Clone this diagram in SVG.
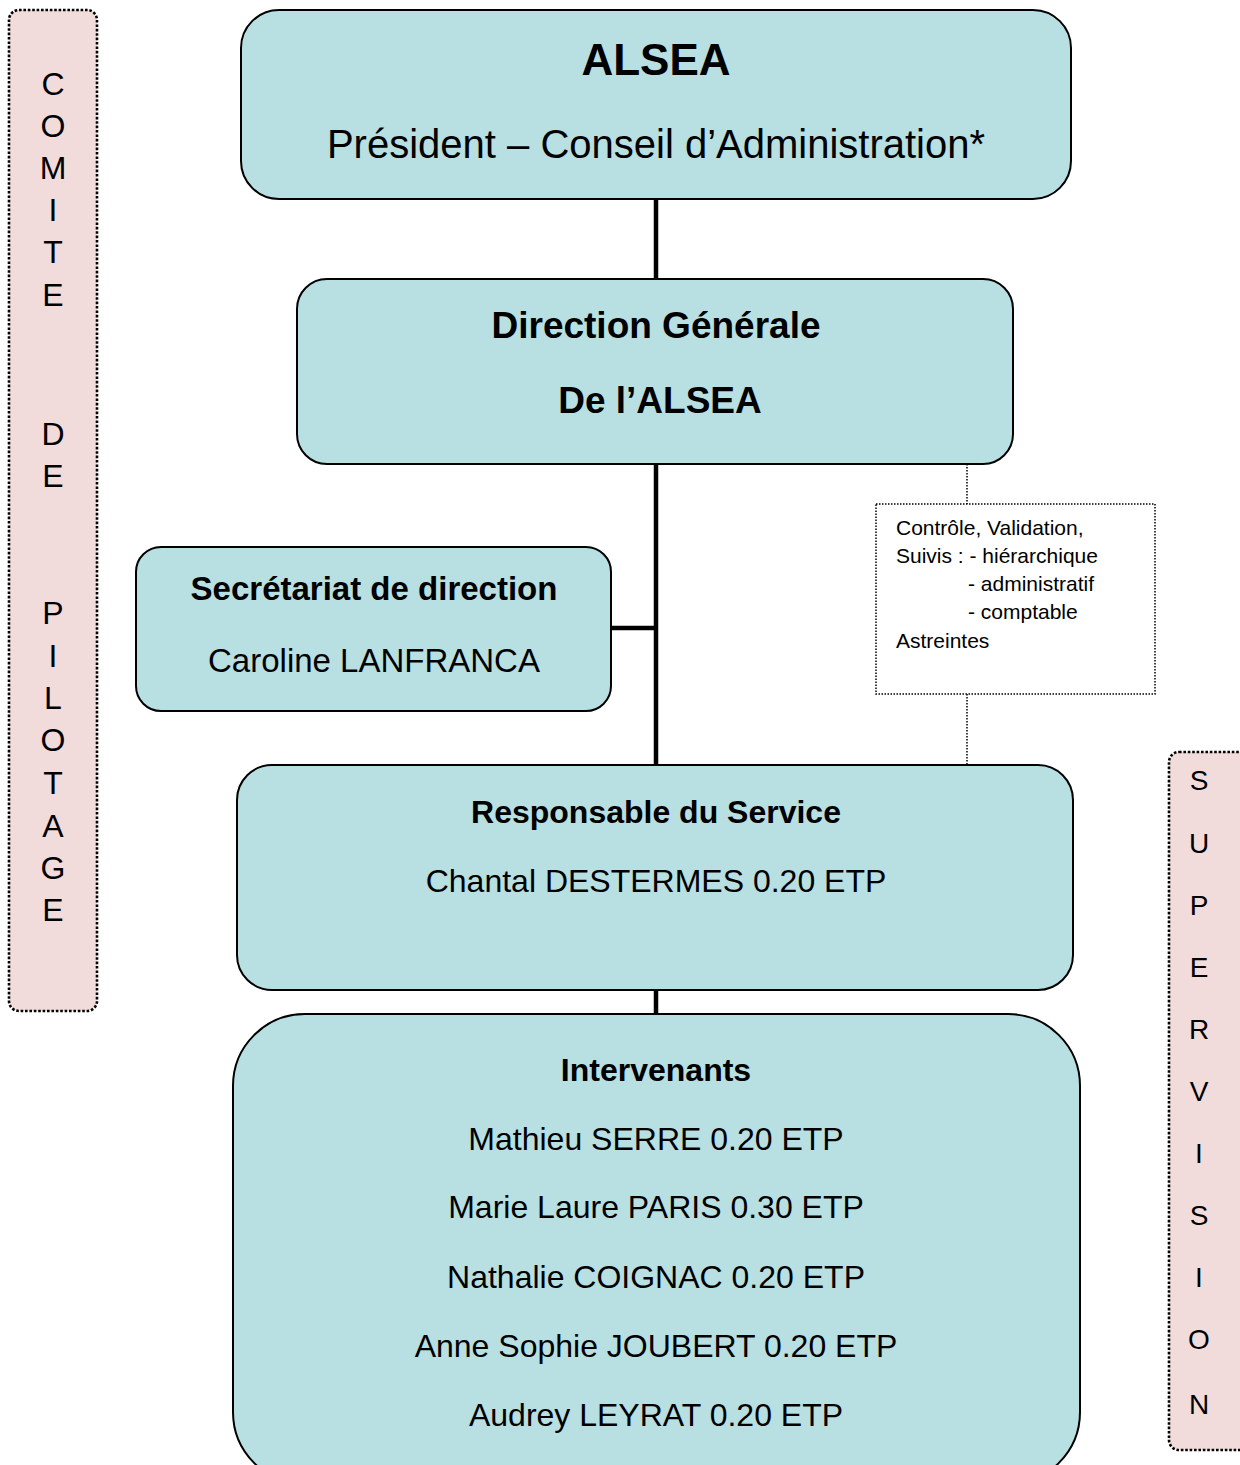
<svg xmlns="http://www.w3.org/2000/svg" width="1240" height="1465" viewBox="0 0 1240 1465">
<style>
text{font-family:"Liberation Sans",Arial,sans-serif;fill:#000}
.box{fill:#b8dfe2;stroke:#000;stroke-width:2}
.side{fill:#f2dcdb;stroke:#000;stroke-width:2.6;stroke-dasharray:2.6 1.8}
.note{fill:#fff;stroke:#000;stroke-width:1.5;stroke-dasharray:1.5 1.5}
.solid{stroke:#000;stroke-width:4.5;fill:none}
.dot{stroke:#000;stroke-width:1.5;stroke-dasharray:1.5 1.5;fill:none}
.c{text-anchor:middle}
.b{font-weight:bold}
</style>
<rect width="1240" height="1465" fill="#fff"/>
<g id="connectors">
<line class="solid" x1="656" y1="199" x2="656" y2="279"/>
<line class="solid" x1="656" y1="464" x2="656" y2="765"/>
<line class="solid" x1="611" y1="628" x2="656" y2="628"/>
<line class="solid" x1="656" y1="990" x2="656" y2="1014"/>
<line class="dot" x1="967" y1="464" x2="967" y2="504"/>
<line class="dot" x1="967" y1="694" x2="967" y2="765"/>
</g>
<g id="comite">
<rect class="side" x="9" y="10" width="88" height="1001" rx="10"/>
<g class="c" font-size="32">
<text x="53" y="95">C</text><text x="53" y="137">O</text><text x="53" y="179">M</text><text x="53" y="221">I</text><text x="53" y="263">T</text><text x="53" y="306">E</text>
<text x="53" y="445">D</text><text x="53" y="487">E</text>
<text x="53" y="624">P</text><text x="53" y="667">I</text><text x="53" y="709">L</text><text x="53" y="751">O</text><text x="53" y="794">T</text><text x="53" y="837">A</text><text x="53" y="879">G</text><text x="53" y="921">E</text>
</g>
</g>
<g id="supervision">
<rect class="side" x="1169" y="752" width="90" height="698" rx="10"/>
<g class="c" font-size="28">
<text x="1199" y="790">S</text><text x="1199" y="853">U</text><text x="1199" y="915">P</text><text x="1199" y="977">E</text><text x="1199" y="1039">R</text><text x="1199" y="1101">V</text><text x="1199" y="1163">I</text><text x="1199" y="1225">S</text><text x="1199" y="1287">I</text><text x="1199" y="1349">O</text><text x="1199" y="1414">N</text>
</g>
</g>
<g id="alsea">
<rect class="box" x="241" y="10" width="830" height="189" rx="38"/>
<text class="c b" x="656" y="75" font-size="44">ALSEA</text>
<text class="c" x="656" y="158" font-size="40">Président – Conseil d’Administration*</text>
</g>
<g id="direction">
<rect class="box" x="297" y="279" width="716" height="185" rx="30"/>
<text class="c b" x="656" y="338" font-size="37">Direction Générale</text>
<text class="c b" x="660" y="413" font-size="37">De l’ALSEA</text>
</g>
<g id="secretariat">
<rect class="box" x="136" y="547" width="475" height="164" rx="25"/>
<text class="c b" x="374" y="600" font-size="33">Secrétariat de direction</text>
<text class="c" x="374" y="672" font-size="33">Caroline LANFRANCA</text>
</g>
<g id="controle">
<rect class="note" x="876" y="504" width="279" height="190"/>
<g font-size="21">
<text x="896" y="535">Contrôle, Validation,</text>
<text x="896" y="563">Suivis : - hiérarchique</text>
<text x="968" y="591">- administratif</text>
<text x="968" y="619">- comptable</text>
<text x="896" y="648">Astreintes</text>
</g>
</g>
<g id="responsable">
<rect class="box" x="237" y="765" width="836" height="225" rx="35"/>
<text class="c b" x="656" y="823" font-size="32">Responsable du Service</text>
<text class="c" x="656" y="892" font-size="32">Chantal DESTERMES 0.20 ETP</text>
</g>
<g id="intervenants">
<rect class="box" x="233" y="1014" width="847" height="470" rx="72"/>
<text class="c b" x="656" y="1081" font-size="32">Intervenants</text>
<g class="c" font-size="32">
<text x="656" y="1150">Mathieu SERRE 0.20 ETP</text>
<text x="656" y="1218">Marie Laure PARIS 0.30 ETP</text>
<text x="656" y="1288">Nathalie COIGNAC 0.20 ETP</text>
<text x="656" y="1357">Anne Sophie JOUBERT 0.20 ETP</text>
<text x="656" y="1426">Audrey LEYRAT 0.20 ETP</text>
</g>
</g>
</svg>
